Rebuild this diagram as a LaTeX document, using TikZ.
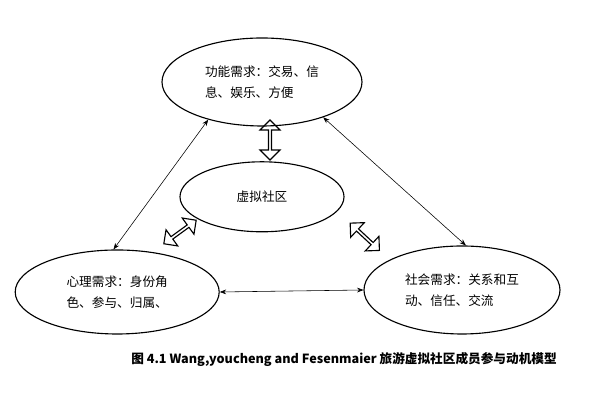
\documentclass[tikz,border=0pt]{standalone}
\usepackage{fontspec}
\setmainfont{Noto Sans CJK SC}
\usetikzlibrary{arrows.meta,shapes.geometric,shapes.arrows}

\begin{document}
\begin{tikzpicture}
\useasboundingbox (0,0) rectangle (15,10);
\tikzset{
  need/.style={draw, ellipse, thick, align=left, font=\small},
  link/.style={{Stealth[length=1.6mm]}-{Stealth[length=1.6mm]}},
  hollow/.style={draw, double arrow, thick, minimum height=1cm, minimum width=0.5cm, double arrow head extend=0.08cm, inner sep=0pt}
}
% Four motive ellipses
\node[need, minimum width=5cm, minimum height=2.2cm] (func) at (6.55,7.95) {功能需求：交易、信\\[4pt]息、娱乐、方便};
\node[need, minimum width=4.1cm, minimum height=1.75cm] (vc) at (6.55,5.08) {虚拟社区};
\node[need, minimum width=5.1cm, minimum height=2.1cm] (psy) at (2.93,2.7) {心理需求：身份角\\[4pt]色、参与、归属、};
\node[need, minimum width=4.9cm, minimum height=2.2cm] (soc) at (11.55,2.75) {社会需求：关系和互\\[4pt]动、信任、交流};
% Thin connectors
\draw[link] (func.215) -- (psy.95);
\draw[link] (func.-30) -- (soc.85);
\draw[link] (psy.east) -- (soc.west);
% Hollow double arrows
\node[hollow, rotate=90] (a1) at (6.75,6.5) {};
\node[hollow, rotate=36] (a2) at (4.5,4.2) {};
\node[hollow, rotate=-43] (a3) at (9.12,4.08) {};
% Caption
\node[font=\bfseries\small] (cap) at (8.6,1.0) {图 4.1 Wang,youcheng and Fesenmaier 旅游虚拟社区成员参与动机模型};
\end{tikzpicture}
\end{document}
